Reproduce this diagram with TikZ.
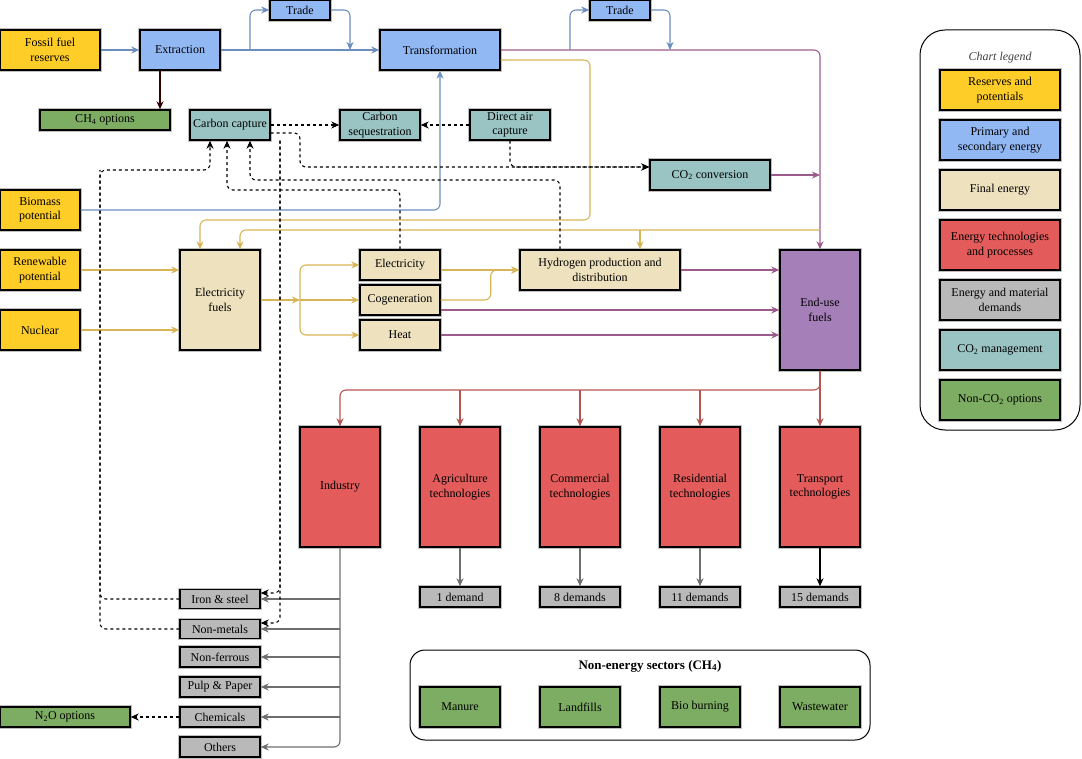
\documentclass[tikz,border=0pt]{standalone}
\usepackage{fontspec}
\setmainfont{Liberation Serif}
\usetikzlibrary{arrows.meta, positioning, calc}
\definecolor{resyellow}{HTML}{FFCD28}
\definecolor{primblue}{HTML}{92B8F4}
\definecolor{finalbeige}{HTML}{EEE1BE}
\definecolor{techred}{HTML}{E35B5B}
\definecolor{demgray}{HTML}{B9B9B9}
\definecolor{cotwoteal}{HTML}{9AC4C4}
\definecolor{nongreen}{HTML}{7DAD62}
\definecolor{endpurple}{HTML}{A57FB8}
\definecolor{lineblue}{HTML}{6C8EBF}
\definecolor{linegold}{HTML}{D6B656}
\definecolor{linepurple}{HTML}{9B5C8C}
\definecolor{linered}{HTML}{B85450}
\definecolor{linegray}{HTML}{6E6E6E}
\definecolor{linedarkred}{HTML}{330000}
\tikzset{
	chartbox/.style={draw=black, line width=1.4pt, align=center, inner sep=1pt,
			font=\fontsize{12}{14.5}\selectfont,
			preaction={draw=black!25, line width=3.2pt}},
	sz/.style 2 args={minimum width=#1pt, minimum height=#2pt}
}
\tikzset{
	reservebox/.style={chartbox, fill=resyellow},
	primarybox/.style={chartbox, fill=primblue},
	finalbox/.style={chartbox, fill=finalbeige},
	techbox/.style={chartbox, fill=techred},
	demandbox/.style={chartbox, fill=demgray},
	capturebox/.style={chartbox, fill=cotwoteal},
	nonco2box/.style={chartbox, fill=nongreen},
	endusebox/.style={chartbox, fill=endpurple},
	framebox/.style={draw=black, line width=1pt}
}
\tikzset{
	flow/.style={line width=1.1pt, rounded corners=6pt, -{Stealth[length=8pt,width=7pt,inset=2.5pt]}},
	blueflow/.style={flow, draw=lineblue},
	goldflow/.style={flow, draw=linegold},
	purpleflow/.style={flow, draw=linepurple},
	redflow/.style={flow, draw=linered},
	grayflow/.style={flow, draw=linegray},
	blackflow/.style={flow, draw=black},
	darkredflow/.style={flow, draw=linedarkred},
	captureline/.style={line width=1.1pt, rounded corners=6pt, draw=black, dash pattern=on 3pt off 3pt},
	captureflow/.style={captureline, -{Stealth[length=8pt,width=7pt,inset=2.5pt]}}
}

\begin{document}
\begin{tikzpicture}[x=1pt, y=-1pt]
	\useasboundingbox (0,0) rectangle (1082,759);

	\begin{scope}
		\node[reservebox, sz={100}{40}] (fossil) at (50,50) {Fossil fuel\\reserves};
		\node[primarybox, sz={80}{40}] (extract) at (180,50) {Extraction};
		\node[primarybox, sz={60}{20}] (tradeA) at (300,10) {Trade};
		\node[primarybox, sz={120}{40}] (transf) at (440,50) {Transformation};
		\node[primarybox, sz={60}{20}] (tradeB) at (620,10) {Trade};
		\node[nonco2box, sz={130}{20}] (chopt) at (105,120) {CH\textsubscript{4} options};
		\node[capturebox, sz={80}{30}] (ccapt) at (230,125) {Carbon capture};
		\node[capturebox, sz={80}{30}] (cseq) at (380,125) {Carbon\\sequestration};
		\node[capturebox, sz={80}{30}] (dac) at (510,125) {Direct air\\capture};
		\node[capturebox, sz={120}{30}] (coconv) at (710,175) {CO\textsubscript{2} conversion};
	\end{scope}

	\begin{scope}
		\node[reservebox, sz={80}{40}] (biomass) at (40,210) {Biomass\\potential};
		\node[reservebox, sz={80}{40}] (renew) at (40,270) {Renewable\\potential};
		\node[reservebox, sz={80}{40}] (nuclear) at (40,330) {Nuclear};
		\node[finalbox, sz={80}{100}] (elfuels) at (220,300) {Electricity\\fuels};
		\node[finalbox, sz={80}{30}] (elec) at (400,265) {Electricity};
		\node[finalbox, sz={80}{30}] (cogen) at (400,300) {Cogeneration};
		\node[finalbox, sz={80}{30}] (heat) at (400,335) {Heat};
		\node[finalbox, sz={160}{40}] (hydro) at (600,270) {Hydrogen production and\\distribution};
		\node[endusebox, sz={80}{120}] (enduse) at (820,310) {End-use\\fuels};
	\end{scope}

	\begin{scope}
		\node[techbox, sz={80}{120}] (industry) at (340,487) {Industry};
		\node[techbox, sz={80}{120}] (agri) at (460,487) {Agriculture\\technologies};
		\node[techbox, sz={80}{120}] (comm) at (580,487) {Commercial\\technologies};
		\node[techbox, sz={80}{120}] (resid) at (700,487) {Residential\\technologies};
		\node[techbox, sz={80}{120}] (transp) at (820,487) {Transport\\technologies};

		\node[demandbox, sz={80}{20}] (dagri) at (460,597) {1 demand};
		\node[demandbox, sz={80}{20}] (dcomm) at (580,597) {8 demands};
		\node[demandbox, sz={80}{20}] (dresid) at (700,597) {11 demands};
		\node[demandbox, sz={80}{20}] (dtransp) at (820,597) {15 demands};

		\node[demandbox, sz={80}{19}] (iron) at (220,599) {Iron \& steel};
		\node[demandbox, sz={80}{19}] (nonmet) at (220,629) {Non-metals};
		\node[demandbox, sz={80}{20}] (nonfer) at (220,657) {Non-ferrous};
		\node[demandbox, sz={80}{20}] (pulp) at (220,687) {Pulp \& Paper};
		\node[demandbox, sz={80}{20}] (chem) at (220,717) {Chemicals};
		\node[demandbox, sz={80}{20}] (others) at (220,747) {Others};
		\node[nonco2box, sz={130}{20}] (ntwoo) at (65,717) {N\textsubscript{2}O options};
	\end{scope}

	\begin{scope}
		\node[framebox, sz={460}{90}, rounded corners=15pt] (nonenergy) at (640,695) {};
		\node[font=\bfseries\fontsize{13}{15}\selectfont] (nonenergytitle) at (650,666) {Non-energy sectors (CH\textsubscript{4})};
		\node[nonco2box, sz={80}{40}] (manure) at (460,707) {Manure};
		\node[nonco2box, sz={80}{40}] (landfill) at (580,707) {Landfills};
		\node[nonco2box, sz={80}{40}] (bioburn) at (700,707) {Bio burning};
		\node[nonco2box, sz={80}{40}] (waste) at (820,707) {Wastewater};
	\end{scope}

	\begin{scope}
		\node[framebox, sz={160}{400}, rounded corners=25pt] (legend) at (1000,230) {};
		\node[font=\itshape\fontsize{12}{14}\selectfont, text=black!75] (legendtitle) at (1000,58) {Chart legend};
		\node[reservebox, sz={120}{40}] (lgA) at (1000,90) {Reserves and\\potentials};
		\node[primarybox, sz={120}{40}] (lgB) at (1000,140) {Primary and\\secondary energy};
		\node[finalbox, sz={120}{40}] (lgC) at (1000,190) {Final energy};
		\node[techbox, sz={120}{50}] (lgD) at (1000,245) {Energy technologies\\and processes};
		\node[demandbox, sz={120}{40}] (lgE) at (1000,300) {Energy and material\\demands};
		\node[capturebox, sz={120}{40}] (lgF) at (1000,350) {CO\textsubscript{2} management};
		\node[nonco2box, sz={120}{40}] (lgG) at (1000,400) {Non-CO\textsubscript{2} options};
	\end{scope}

	\begin{scope}
		\coordinate (tradeAin) at (250,50);
		\coordinate (tradeAout) at (350,50);
		\coordinate (tradeBin) at (570,50);
		\coordinate (tradeBout) at (670,50);

		\draw[purpleflow] (transf.east) -| (enduse.north);
		\draw[purpleflow] (coconv.east) -- (coconv.east -| enduse.north);
		\draw[purpleflow] (hydro.east) -- (hydro.east -| enduse.west);
		\draw[purpleflow] ([yshift=-10pt]cogen.east) -- ([yshift=-10pt]cogen.east -| enduse.west);
		\draw[purpleflow] (heat.east) -- (heat.east -| enduse.west);

		\draw[blueflow] (fossil) -- (extract);
		\draw[blueflow] (extract) -- (transf);
		\draw[blueflow] (tradeAin) |- (tradeA.west);
		\draw[blueflow] (tradeA.east) -| (tradeAout);
		\draw[blueflow] (tradeBin) |- (tradeB.west);
		\draw[blueflow] (tradeB.east) -| (tradeBout);
		\draw[blueflow] (biomass.east) -| (transf.south);

		\draw[darkredflow] ([xshift=-20pt]extract.south) -- ([xshift=-20pt]extract.south |- chopt.north);
	\end{scope}

	\begin{scope}
		\coordinate (goldturn) at (590,220);
		\coordinate (goldsplit) at (820,230);
		\coordinate (elsplit) at (300,300);

		\draw[goldflow] ([yshift=-10pt]transf.east) -| (goldturn) -| ([xshift=-20pt]elfuels.north);
		\draw[goldflow] (goldsplit) -| ([xshift=20pt]elfuels.north);
		\draw[goldflow] ([xshift=40pt]hydro.north |- goldsplit) -- ([xshift=40pt]hydro.north);
		\draw[goldflow] (renew.east) -- (renew.east -| elfuels.west);
		\draw[goldflow] (nuclear.east) -- (nuclear.east -| elfuels.west);
		\draw[goldflow] (elfuels.east) -- (elsplit);
		\draw[goldflow] (elsplit) |- (elec.west);
		\draw[goldflow] (elsplit) -- (cogen.west);
		\draw[goldflow] (elsplit) |- (heat.west);
		\draw[goldflow] ([yshift=-5pt]elec.east) -- (hydro.west);
		\draw[goldflow] (cogen.east) -- ++(50,0) |- (hydro.west);
	\end{scope}

	\begin{scope}
		\coordinate (redsplit) at (820,390);

		\draw[redflow] (enduse.south) -- (redsplit) -| (industry.north);
		\draw[redflow] (enduse.south) -- (transp.north);
		\foreach \t in {agri, comm, resid}
			\draw[redflow] (\t.north |- redsplit) -- (\t.north);

		\foreach \t/\d in {agri/dagri, comm/dcomm, resid/dresid}
			\draw[grayflow] (\t) -- (\d);
		\draw[blackflow] (transp) -- (dtransp);
		\draw[grayflow] (industry.south) |- (others.east);
		\foreach \s in {iron, nonmet, nonfer, pulp, chem}
			\draw[grayflow] (industry.south |- \s.east) -- (\s.east);
	\end{scope}

	\begin{scope}
		\coordinate (cobend) at (300,167);
		\coordinate (indbend) at (100,170);
		\coordinate (elbend) at (400,190);
		\coordinate (hybend) at (560,180);

		\draw[captureflow] (ccapt) -- (cseq);
		\draw[captureflow] (dac) -- (cseq);
		\draw[captureflow] ([yshift=-8pt]ccapt.east) -| (cobend) -- ([yshift=8pt]coconv.west);
		\draw[captureflow] (dac.south) |- ([yshift=8pt]coconv.west);
		\draw[captureflow] ([xshift=50pt]ccapt.south) |- ([yshift=6pt]iron.east);
		\draw[captureflow] ([xshift=50pt]ccapt.south) |- ([yshift=6pt]nonmet.east);
		\draw[captureflow] (iron.west) -| (indbend) -| ([xshift=-20pt]ccapt.south);
		\draw[captureline] (nonmet.west) -| (indbend);
		\draw[captureflow] (elec.north) -- (elbend) -| ([xshift=-3pt]ccapt.south);
		\draw[captureflow] ([xshift=-40pt]hydro.north) -- (hybend) -| ([xshift=20pt]ccapt.south);
		\draw[captureflow] (chem) -- (ntwoo);
	\end{scope}

\end{tikzpicture}
\end{document}
